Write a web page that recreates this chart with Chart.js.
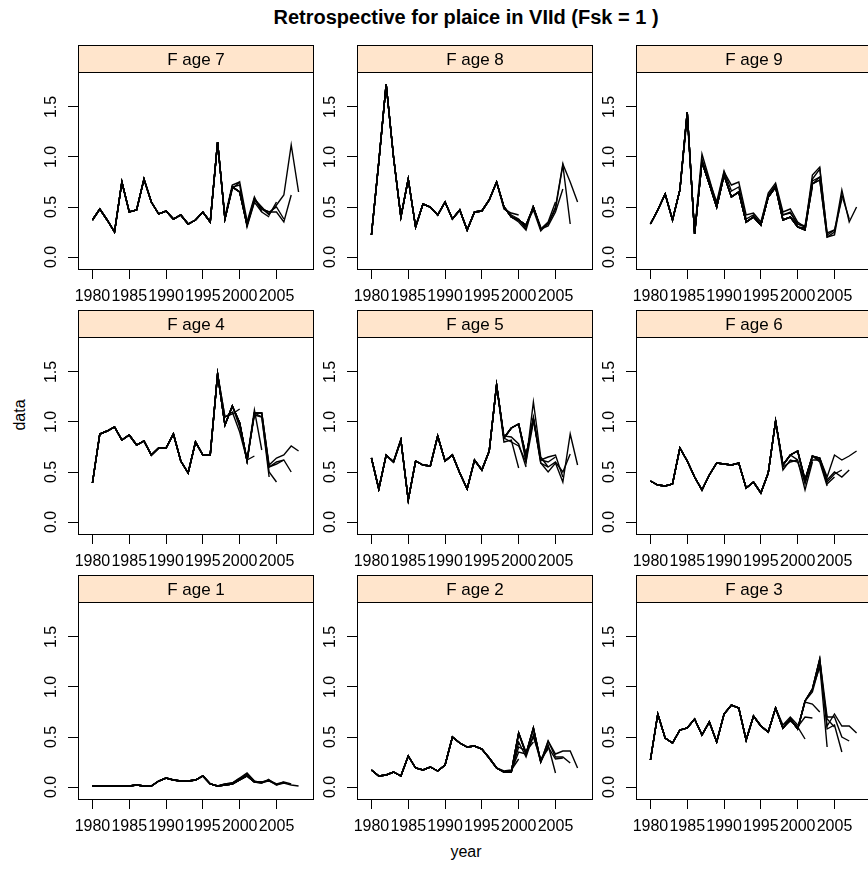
<!DOCTYPE html>
<html>
<head>
<meta charset="utf-8">
<title>Retrospective for plaice in VIId</title>
<script src="https://cdn.jsdelivr.net/npm/chart.js@4.4.1/dist/chart.umd.min.js"></script>
<style>
  html, body { margin: 0; padding: 0; background: #fff; overflow: hidden; }
  #page { position: relative; width: 868px; height: 877px; font-family: "Liberation Sans", Arial, sans-serif; color: #000; }
  .panel { position: absolute; }
  #title { position: absolute; left: 66px; width: 800px; top: 6px; text-align: center; font-weight: bold; font-size: 20px; }
  #ylab { position: absolute; left: 20px; top: 415px; transform: translate(-50%, -50%) rotate(-90deg); font-size: 16px; }
  #xlab { position: absolute; left: 466px; top: 852px; transform: translate(-50%, -50%); font-size: 16px; }
</style>
</head>
<body>
<div id="page">
  <div id="title">Retrospective for plaice in VIId (Fsk = 1 )</div>
  <div id="ylab">data</div>
  <div id="xlab">year</div>
</div>
<script>
const years = [1980, 1981, 1982, 1983, 1984, 1985, 1986, 1987, 1988, 1989,
  1990, 1991, 1992, 1993, 1994, 1995, 1996, 1997, 1998, 1999,
  2000, 2001, 2002, 2003, 2004, 2005, 2006, 2007, 2008];
const yearTicks = [1980, 1985, 1990, 1995, 2000, 2005];
const valueTicks = [0, 0.5, 1.0, 1.5];

// panels in lattice order, top row first
const panelAges = [7, 8, 9, 4, 5, 6, 1, 2, 3];

// full assessment (last year 2008), one value per year
const fAge1 = [0.01, 0.01, 0.01, 0.01, 0.01, 0.01, 0.02, 0.01, 0.01, 0.06, 0.09, 0.07, 0.06, 0.06, 0.07, 0.11, 0.03, 0.01, 0.02, 0.03, 0.07, 0.11, 0.05, 0.05, 0.06, 0.02, 0.04, 0.02, 0.01];
const fAge2 = [0.17, 0.11, 0.12, 0.15, 0.11, 0.31, 0.19, 0.17, 0.20, 0.16, 0.22, 0.50, 0.44, 0.40, 0.41, 0.38, 0.29, 0.19, 0.15, 0.15, 0.54, 0.33, 0.59, 0.25, 0.46, 0.33, 0.36, 0.36, 0.19];
const fAge3 = [0.27, 0.73, 0.49, 0.44, 0.57, 0.59, 0.68, 0.52, 0.65, 0.45, 0.73, 0.82, 0.79, 0.47, 0.71, 0.61, 0.55, 0.79, 0.59, 0.68, 0.58, 0.86, 0.98, 1.28, 0.61, 0.73, 0.61, 0.61, 0.54];
const fAge4 = [0.39, 0.88, 0.91, 0.95, 0.82, 0.87, 0.77, 0.81, 0.67, 0.74, 0.74, 0.88, 0.61, 0.49, 0.80, 0.67, 0.67, 1.48, 0.97, 1.16, 0.99, 0.61, 1.09, 1.09, 0.57, 0.64, 0.67, 0.76, 0.71];
const fAge5 = [0.64, 0.33, 0.67, 0.60, 0.82, 0.22, 0.61, 0.57, 0.56, 0.86, 0.61, 0.67, 0.49, 0.33, 0.62, 0.52, 0.71, 1.37, 0.84, 0.94, 0.98, 0.66, 1.03, 0.59, 0.50, 0.59, 0.40, 0.88, 0.57];
const fAge6 = [0.41, 0.37, 0.36, 0.38, 0.74, 0.61, 0.45, 0.32, 0.47, 0.59, 0.58, 0.57, 0.59, 0.34, 0.40, 0.29, 0.49, 1.01, 0.57, 0.67, 0.71, 0.42, 0.66, 0.64, 0.45, 0.67, 0.62, 0.66, 0.71];
const fAge7 = [0.37, 0.48, 0.37, 0.25, 0.75, 0.45, 0.47, 0.78, 0.55, 0.43, 0.46, 0.38, 0.42, 0.33, 0.37, 0.45, 0.35, 1.15, 0.38, 0.70, 0.65, 0.32, 0.58, 0.48, 0.43, 0.52, 0.62, 1.12, 0.65];
const fAge8 = [0.22, 0.95, 1.73, 1.00, 0.40, 0.78, 0.30, 0.53, 0.50, 0.42, 0.55, 0.38, 0.47, 0.27, 0.45, 0.46, 0.57, 0.75, 0.50, 0.40, 0.37, 0.32, 0.50, 0.28, 0.33, 0.50, 0.93, 0.75, 0.55];
const fAge9 = [0.33, 0.47, 0.63, 0.37, 0.67, 1.45, 0.23, 0.95, 0.73, 0.50, 0.82, 0.60, 0.65, 0.35, 0.40, 0.32, 0.60, 0.70, 0.37, 0.40, 0.30, 0.27, 0.73, 0.77, 0.20, 0.25, 0.67, 0.35, 0.50];

// retrospective runs: [first year that differs, values up to the run's last year]
const fAge1Retro = [[2005, 0.03, 0.05, 0.03], [2004, 0.07, 0.02, 0.05], [2003, 0.04, 0.07, 0.03], [2002, 0.05, 0.04, 0.08],
  [2000, 0.08, 0.13, 0.06, 0.04], [1999, 0.04, 0.09, 0.14, 0.06], [1998, 0.03, 0.04, 0.08, 0.12], [1998, 0.03, 0.04, 0.09]];
const fAge2Retro = [[2005, 0.30, 0.30, 0.24], [2004, 0.40, 0.28, 0.29], [2003, 0.25, 0.42, 0.14], [2001, 0.35, 0.50, 0.28, 0.38],
  [2000, 0.45, 0.30, 0.52, 0.25], [1999, 0.16, 0.40, 0.36, 0.45], [1999, 0.16, 0.35, 0.33], [1998, 0.16, 0.17, 0.28]];
const fAge3Retro = [[2004, 0.70, 0.70, 0.50, 0.46], [2004, 0.58, 0.62, 0.35], [2003, 1.20, 0.68, 0.60], [2002, 0.95, 1.22, 0.40],
  [2001, 0.85, 0.83, 0.75], [2000, 0.60, 0.70, 0.69], [1999, 0.66, 0.60, 0.48], [1998, 0.62, 0.70, 0.62]];
const fAge4Retro = [[2004, 0.55, 0.60, 0.62, 0.50], [2004, 0.55, 0.58, 0.62], [2003, 1.05, 0.50, 0.40], [2002, 1.07, 1.05, 0.45],
  [2001, 0.62, 1.12, 0.72], [2000, 0.95, 0.62, 0.66], [1998, 1.05, 1.10, 0.90, 0.62], [1998, 1.05, 1.08, 1.13]];
const fAge5Retro = [[2004, 0.55, 0.60, 0.50, 0.68], [2003, 0.62, 0.65, 0.67, 0.45], [2003, 0.62, 0.60, 0.65], [2001, 0.60, 1.20, 0.65, 0.55],
  [2001, 0.63, 1.05, 0.62], [1999, 0.80, 0.76, 0.60, 1.00], [1998, 0.86, 0.85, 0.78, 0.55], [1998, 0.80, 0.82, 0.54]];
const fAge6Retro = [[2004, 0.42, 0.50, 0.45, 0.52], [2004, 0.40, 0.48, 0.52], [2003, 0.62, 0.38, 0.45], [2002, 0.66, 0.60, 0.36],
  [2001, 0.38, 0.62, 0.62], [2000, 0.62, 0.32, 0.60], [1998, 0.52, 0.62, 0.60, 0.40], [1998, 0.55, 0.60, 0.62]];
const fAge7Retro = [[2004, 0.45, 0.45, 0.35, 0.62], [2004, 0.45, 0.50, 0.38], [2003, 0.50, 0.42, 0.55], [2002, 0.55, 0.45, 0.40],
  [2001, 0.35, 0.60, 0.45], [2000, 0.72, 0.30, 0.55], [1999, 0.68, 0.75, 0.36], [1998, 0.40, 0.72, 0.75]];
const fAge8Retro = [[2005, 0.48, 0.92, 0.33], [2004, 0.31, 0.45, 0.68], [2003, 0.28, 0.35, 0.55], [2002, 0.47, 0.26, 0.34],
  [2001, 0.30, 0.50, 0.30], [2000, 0.35, 0.27, 0.52], [1999, 0.42, 0.38, 0.28], [1998, 0.48, 0.44, 0.42]];
const fAge9Retro = [[2005, 0.22, 0.62, 0.38], [2003, 0.80, 0.22, 0.27, 0.58], [2002, 0.78, 0.88, 0.24, 0.27], [2001, 0.29, 0.82, 0.90, 0.23],
  [2000, 0.33, 0.31, 0.76, 0.80], [1998, 0.42, 0.45, 0.33, 0.30, 0.70],
  [1987, 0.98, 0.76, 0.55, 0.86, 0.66, 0.70, 0.38, 0.42, 0.33, 0.64, 0.74, 0.45, 0.48, 0.35, 0.30],
  [1985, 1.40, 0.25, 1.03, 0.78, 0.52, 0.85, 0.72, 0.75, 0.42, 0.44, 0.35, 0.62, 0.72, 0.42, 0.44, 0.33]];

(() => {
  const FONT = '"Liberation Sans", Arial, sans-serif';
  const STRIP_H = 27;
  const PLOT_W = 235;
  const PLOT_H = 197;
  const Y_AXIS_W = 40;
  const X_AXIS_H = 45;
  const colLeft = [78, 357, 636];
  const rowTop = [45, 310, 575];

  const series = {
    1: [fAge1, fAge1Retro], 2: [fAge2, fAge2Retro], 3: [fAge3, fAge3Retro],
    4: [fAge4, fAge4Retro], 5: [fAge5, fAge5Retro], 6: [fAge6, fAge6Retro],
    7: [fAge7, fAge7Retro], 8: [fAge8, fAge8Retro], 9: [fAge9, fAge9Retro],
  };

  Chart.defaults.font.family = FONT;
  Chart.defaults.color = '#000';

  // each retro run follows the full run until its own first year, then its tail
  const runLines = (base, retro) => {
    const lines = [];
    retro.forEach((run) => {
      const start = run[0];
      const pts = [];
      years.forEach((yr, i) => {
        if (yr < start) pts.push({ x: yr, y: base[i] });
      });
      run.slice(1).forEach((v, k) => pts.push({ x: start + k, y: v }));
      lines.push(pts);
    });
    lines.push(years.map((yr, i) => ({ x: yr, y: base[i] })));
    return lines;
  };

  // peach strip on top and the black box round the panel
  const panelFrame = {
    id: 'panelFrame',
    afterDraw(chart) {
      const { ctx, chartArea: a } = chart;
      const label = chart.options.plugins.panelFrame.label;
      const l = Math.round(a.left) + 0.5;
      const t = Math.round(a.top) + 0.5;
      const w = Math.round(a.width);
      const h = Math.round(a.height);
      ctx.save();
      ctx.fillStyle = '#ffe5cc';
      ctx.fillRect(l, t - STRIP_H, w, STRIP_H);
      ctx.strokeStyle = '#000';
      ctx.lineWidth = 1;
      ctx.strokeRect(l, t - STRIP_H, w, STRIP_H);
      ctx.strokeRect(l, t, w, h);
      ctx.fillStyle = '#000';
      ctx.font = '17px ' + FONT;
      ctx.textAlign = 'center';
      ctx.textBaseline = 'middle';
      ctx.fillText(label, l + w / 2, t - STRIP_H / 2 + 1);
      ctx.restore();
    },
  };

  const page = document.getElementById('page');

  panelAges.forEach((age, idx) => {
    const col = idx % 3;
    const row = Math.floor(idx / 3);
    const canvas = document.createElement('canvas');
    canvas.className = 'panel';
    canvas.width = Y_AXIS_W + PLOT_W + 2;
    canvas.height = STRIP_H + PLOT_H + X_AXIS_H;
    canvas.style.left = (colLeft[col] - Y_AXIS_W) + 'px';
    canvas.style.top = rowTop[row] + 'px';
    page.appendChild(canvas);

    const [base, retro] = series[age];
    const datasets = runLines(base, retro).map((pts) => ({
      data: pts,
      borderColor: '#000',
      borderWidth: 1.4,
      pointRadius: 0,
      tension: 0,
      fill: false,
    }));

    new Chart(canvas.getContext('2d'), {
      type: 'line',
      data: { datasets: datasets },
      plugins: [panelFrame],
      options: {
        responsive: false,
        animation: false,
        devicePixelRatio: 1,
        events: [],
        layout: { padding: { top: STRIP_H, right: 2, left: 0, bottom: 0 } },
        plugins: {
          legend: { display: false },
          tooltip: { enabled: false },
          panelFrame: { label: 'F age ' + age },
        },
        scales: {
          x: {
            type: 'linear',
            min: 1978.04,
            max: 2009.96,
            afterBuildTicks: (s) => { s.ticks = yearTicks.map((v) => ({ value: v })); },
            afterFit: (s) => { s.height = X_AXIS_H; },
            border: { display: false },
            grid: { drawOnChartArea: false, tickLength: 10, tickColor: '#000', color: '#000' },
            ticks: {
              autoSkip: false,
              minRotation: 0,
              maxRotation: 0,
              padding: 8,
              color: '#000',
              font: { size: 16 },
              callback: (v) => String(v),
            },
          },
          y: {
            type: 'linear',
            min: -0.12,
            max: 1.85,
            afterBuildTicks: (s) => { s.ticks = valueTicks.map((v) => ({ value: v })); },
            afterFit: (s) => { s.width = Y_AXIS_W; },
            border: { display: false },
            grid: { drawOnChartArea: false, tickLength: 10, tickColor: '#000', color: '#000' },
            ticks: {
              minRotation: 90,
              maxRotation: 90,
              crossAlign: 'center',
              padding: 5,
              color: '#000',
              font: { size: 16 },
              callback: (v) => v.toFixed(1),
            },
          },
        },
      },
    });
  });
})();
</script>
</body>
</html>
